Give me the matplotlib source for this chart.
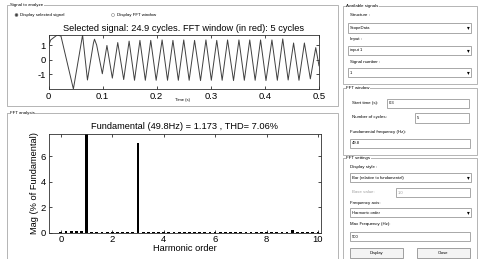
import matplotlib
matplotlib.use("Agg")
import matplotlib.pyplot as plt
from matplotlib.patches import Rectangle, Circle

plt.rcParams['font.family'] = ['Liberation Sans', 'DejaVu Sans']
plt.rcParams['axes.unicode_minus'] = False

# --- signal (turning points) ---
sig_t = [0.000, 0.004, 0.016, 0.023, 0.046, 0.063, 0.072, 0.083, 0.085, 0.089, 0.0995,
         0.108, 0.118, 0.128, 0.139, 0.149, 0.159, 0.169, 0.179, 0.189, 0.199,
         0.210, 0.220, 0.230, 0.240, 0.250, 0.260, 0.270, 0.281, 0.291, 0.301,
         0.311, 0.321, 0.331, 0.342, 0.352, 0.362, 0.372, 0.382, 0.392, 0.402,
         0.413, 0.423, 0.433, 0.443, 0.453, 0.463, 0.473, 0.484, 0.494, 0.500]
sig_v = [0.95, 1.38, 1.72, 1.65, -2.00, 1.72, -1.38, 1.15, 1.43, 1.03, -0.95,
         1.00, -1.25, 1.20, -1.35, 1.30, -1.40, 1.35, -1.40, 1.35, -1.40,
         1.38, -1.40, 1.35, -1.40, 1.38, -1.40, 1.35, -1.42, 1.38, -1.40,
         1.35, -1.40, 1.38, -1.42, 1.38, -1.40, 1.38, -1.40, 1.38, -1.42,
         1.38, -1.40, 1.45, -1.38, 1.17, -1.40, 1.17, -1.30, 0.85, -0.40]

# --- FFT bars (% of fundamental) ---
harm_order = [0.0, 0.2, 0.4, 0.6, 0.8, 1.0, 1.2, 1.4, 1.6, 1.8,
              2.0, 2.2, 2.4, 2.6, 2.8, 3.0, 3.2, 3.4, 3.6, 3.8,
              4.0, 4.2, 4.4, 4.6, 4.8, 5.0, 5.2, 5.4, 5.6, 5.8,
              6.0, 6.2, 6.4, 6.6, 6.8, 7.0, 7.2, 7.4, 7.6, 7.8,
              8.0, 8.2, 8.4, 8.6, 8.8, 9.0, 9.2, 9.4, 9.6, 9.8, 10.0]
harm_mag = [0.08, 0.10, 0.10, 0.11, 0.13, 100.0, 0.09, 0.07, 0.06, 0.06,
            0.06, 0.06, 0.06, 0.06, 0.06, 7.02, 0.06, 0.06, 0.06, 0.06,
            0.06, 0.06, 0.06, 0.06, 0.06, 0.06, 0.06, 0.06, 0.06, 0.06,
            0.06, 0.06, 0.06, 0.06, 0.06, 0.06, 0.06, 0.06, 0.06, 0.06,
            0.06, 0.06, 0.06, 0.06, 0.06, 0.25, 0.06, 0.06, 0.06, 0.06, 0.06]

sig_title = "Selected signal: 24.9 cycles. FFT window (in red): 5 cycles"
fft_title = "Fundamental (49.8Hz) = 1.173 , THD= 7.06%"

W, H = 479, 259
fig = plt.figure(figsize=(W / 100, H / 100), dpi=100)
fig.patch.set_facecolor('white')

def box(l, t, r, b):
    return [l / W, 1 - b / H, (r - l) / W, (b - t) / H]

# GUI layer in pixel coordinates
gui = fig.add_axes([0, 0, 1, 1])
gui.set_xlim(0, W)
gui.set_ylim(H, 0)
gui.axis('off')

frame_c = '#a8a8a8'
def panel(l, t, r, b, label):
    gui.add_patch(Rectangle((l, t), r - l, b - t, fill=False, ec=frame_c, lw=0.6))
    gui.text(l + 3, t, label, fontsize=3.2, va='center', ha='left',
             bbox=dict(fc='white', ec='none', pad=0.3))

def label(x, y, s, c='black'):
    gui.text(x, y, s, fontsize=3.2, va='center', ha='left', color=c)

def field(l, t, r, b, s, dropdown=False, c='black'):
    gui.add_patch(Rectangle((l, t), r - l, b - t, fc='white', ec='#9a9a9a', lw=0.6))
    gui.text(l + 2, (t + b) / 2, s, fontsize=3.0, va='center', ha='left', color=c)
    if dropdown:
        gui.text(r - 3, (t + b) / 2, '\u25be', fontsize=4, va='center', ha='center')

panel(7, 5, 338, 106, 'Signal to analyze')
panel(7, 113, 338, 265, 'FFT analysis')
panel(343, 6, 477, 84, 'Available signals')
panel(343, 88, 477, 155, 'FFT window')
panel(343, 158, 477, 265, 'FFT settings')

gui.add_patch(Circle((16.5, 15), 1.5, fc='#404040', ec='#808080', lw=0.4))
label(20, 15, 'Display selected signal')
gui.add_patch(Circle((113, 15), 1.5, fc='white', ec='#808080', lw=0.4))
label(117, 15, 'Display FFT window')

label(350, 15, 'Structure :')
field(348, 23, 471, 33, 'ScopeData', dropdown=True)
label(350, 39, 'Input :')
field(348, 46, 471, 55, 'input 1', dropdown=True)
label(350, 62, 'Signal number :')
field(348, 68, 471, 77, '1', dropdown=True)

label(352, 103, 'Start time (s):')
field(387, 99, 469, 108, '0.3')
label(352, 117, 'Number of cycles:')
field(415, 113, 469, 123, '5')
label(350, 132, 'Fundamental frequency (Hz):')
field(350, 139, 470, 148, '49.8')

label(350, 167, 'Display style :')
field(350, 173, 471, 182, 'Bar (relative to fundamental)', dropdown=True)
label(352, 192, 'Base value:', c='#a0a0a0')
field(396, 188, 470, 197, '1.0', c='#a0a0a0')
label(350, 203, 'Frequency axis:')
field(350, 208, 471, 217, 'Harmonic order', dropdown=True)
label(350, 224, 'Max Frequency (Hz):')
field(350, 232, 470, 241, '500')
for l, r, s in [(350, 403, 'Display'), (417, 470, 'Close')]:
    gui.add_patch(Rectangle((l, 248), r - l, 10, fc='#f4f4f4', ec='#909090', lw=0.6))
    gui.text((l + r) / 2, 253, s, fontsize=3.0, va='center', ha='center')

# --- signal axes ---
ax1 = fig.add_axes(box(48.5, 35, 319, 89))
ax1.plot(sig_t, sig_v, color='#404040', lw=0.7)
ax1.set_xlim(0, 0.5)
ax1.set_ylim(-2.0, 1.72)
ax1.set_xticks([0, 0.1, 0.2, 0.3, 0.4, 0.5])
ax1.set_xticklabels(['0', '0.1', '0.2', '0.3', '0.4', '0.5'])
ax1.set_yticks([-1, 0, 1])
ax1.set_title(sig_title, fontsize=6.7, pad=3)
gui.text(183, 100, 'Time (s)', fontsize=3.0, ha='center', va='center')

# --- FFT axes ---
ax2 = fig.add_axes(box(48.5, 134.3, 321, 232.7))
ax2.bar(harm_order, harm_mag, width=0.11, color='black')
ax2.set_xlim(-0.48, 10.12)
ax2.set_ylim(0, 7.7)
ax2.set_xticks([0, 2, 4, 6, 8, 10])
ax2.set_yticks([0, 2, 4, 6])
ax2.set_title(fft_title, fontsize=6.7, pad=4)
ax2.set_xlabel('Harmonic order', fontsize=6.7, labelpad=0)
ax2.set_ylabel('Mag (% of Fundamental)', fontsize=6.7, labelpad=1)

for ax in (ax1, ax2):
    ax.tick_params(direction='in', length=2.5, width=0.5, labelsize=6.8,
                   top=True, right=True, pad=2)
    for sp in ax.spines.values():
        sp.set_linewidth(0.6)
        sp.set_color('#303030')

fig.savefig('out.png', dpi=100)
